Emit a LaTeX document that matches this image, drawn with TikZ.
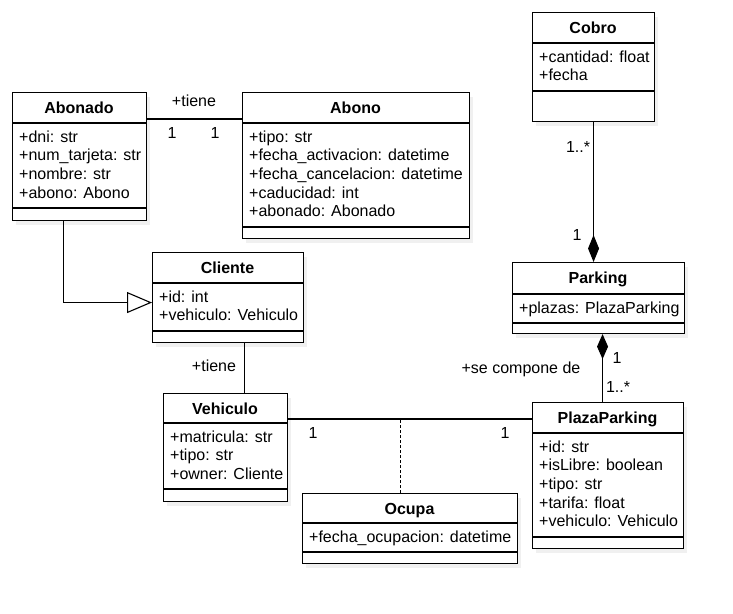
\documentclass[tikz,border=0pt]{standalone}
\usepackage{fontspec}
\setmainfont{Liberation Sans}
\usetikzlibrary{arrows.meta}
\tikzset{
  clsbox/.style={draw=black, line width=1.1pt, fill=white, inner sep=0pt, rectangle},
  shadowbox/.style={fill=black!6},
  ttl/.style={font=\bfseries\fontsize{16}{19}\selectfont, anchor=base, inner sep=0pt},
  attr/.style={font=\fontsize{16}{19}\selectfont, anchor=base west, inner sep=0pt},
  lbl/.style={font=\fontsize{16}{19}\selectfont, anchor=base, inner sep=0pt},
  conn/.style={line width=1.1pt, draw=black},
}
% id x y w h1 h2 h3 title attrs
\newcommand\umlclass[9]{%
  \pgfmathsetmacro\tot{#5+#6+#7}%
  \fill[shadowbox] (#2+4,#3+5) rectangle ++(#4,\tot);
  \node[clsbox, anchor=north west, minimum width=#4pt, minimum height=\tot pt] (#1) at (#2,#3) {};
  \draw[conn] (#2,#3+#5) -- ++(#4,0);
  \draw[conn] (#2,#3+#5+#6) -- ++(#4,0);
  \node[ttl] (#1-t) at (#2+#4/2,#3+21) {#8};
  \foreach \a [count=\i from 0] in {#9} {\node[attr] (#1-a\i) at (#2+7,#3+#5+19+18.7*\i) {\a};}
}
\begin{document}
\begin{tikzpicture}[x=1pt,y=-1pt]
\fill[white] (0,0) rectangle (733,613);
\useasboundingbox (0,0) rectangle (733,613);

\umlclass{abonado}{12}{92}{134}{31}{85}{12}{Abonado}{+dni: str,+num\_tarjeta: str,+nombre: str,+abono: Abono}
\umlclass{abono}{242}{92}{227}{31}{104}{11}{Abono}{+tipo: str,+fecha\_activacion: datetime,+fecha\_cancelacion: datetime,+caducidad: int,+abonado: Abonado}
\umlclass{cobro}{532}{12}{122}{31}{48}{30}{Cobro}{+cantidad: float,+fecha}
\umlclass{parking}{512}{262}{172}{32}{29}{10}{Parking}{+plazas: PlazaParking}
\umlclass{cliente}{152}{252}{151}{31}{48}{11}{Cliente}{+id: int,+vehiculo: Vehiculo}
\umlclass{vehiculo}{163}{393}{124}{30}{66}{12}{Vehiculo}{+matricula: str,+tipo: str,+owner: Cliente}
\umlclass{plaza}{532}{402}{151}{31}{104}{11}{PlazaParking}{+id: str,+isLibre: boolean,+tipo: str,+tarifa: float,+vehiculo: Vehiculo}
\umlclass{ocupa}{302}{493}{215}{30}{29}{11}{Ocupa}{+fecha\_ocupacion: datetime}

% Abonado -- Abono
\draw[conn] ([yshift=-27pt]abonado.north east) -- ([yshift=-27pt]abono.north west);
\node[lbl] (l1) at (194,106) {+tiene};
\node[lbl] (l2) at (172,138) {1};
\node[lbl] (l3) at (215,138) {1};

% Cobro -- Parking (composition)
\draw[conn, -{Diamond[length=27pt,width=11pt]}] (cobro.south) -- (cobro.south |- parking.north);
\node[lbl] (l4) at (578,152) {1..*};
\node[lbl] (l5) at (577,240) {1};

% Parking -- PlazaParking (composition)
\draw[conn, {Diamond[length=25pt,width=11pt]}-] ([xshift=4pt]parking.south) -- ([xshift=4pt]parking.south |- plaza.north);
\node[lbl] (l6) at (617,363) {1};
\node[lbl] (l7) at (618,392) {1..*};
\node[lbl] (l8) at (521,373) {+se compone de};

% Abonado -> Cliente (generalization)
\draw[conn, -{Triangle[open,length=25pt,width=21pt]}] ([xshift=-16pt]abonado.south) |- ([yshift=-5pt]cliente.west);

% Cliente -- Vehiculo
\draw[conn] ([xshift=16pt]cliente.south) -- ([xshift=16pt]cliente.south |- vehiculo.north);
\node[lbl] (l9) at (214,371) {+tiene};

% Vehiculo -- PlazaParking with association class Ocupa
\coordinate (vr) at ([yshift=-26pt]vehiculo.north east);
\coordinate (pl) at ([yshift=-17pt]plaza.north west);
\draw[conn] (vr) -- (pl);
\coordinate (on) at ([xshift=-9.5pt]ocupa.north);
\draw[line width=1pt, dash pattern=on 3pt off 2pt] (on) -- (on |- vr);
\node[lbl] (l10) at (313,438) {1};
\node[lbl] (l11) at (505,438) {1};
\end{tikzpicture}
\end{document}
